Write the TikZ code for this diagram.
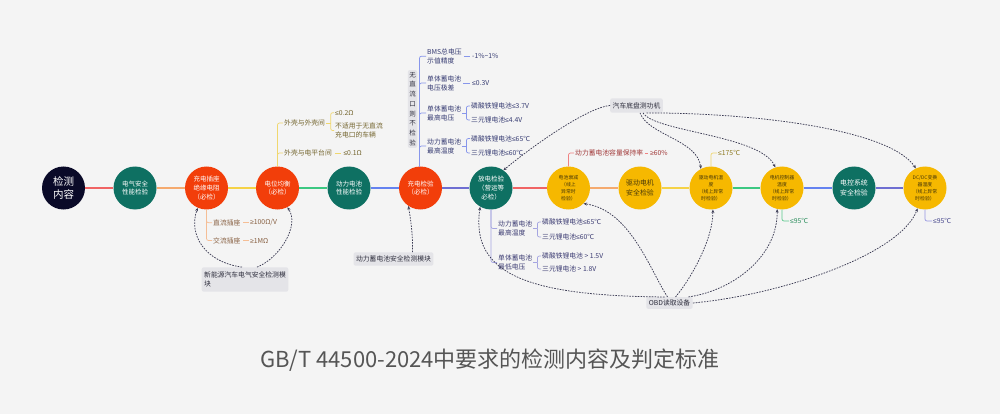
\documentclass[tikz,border=0pt]{standalone}
\usepackage{fontspec}
\setmainfont{Noto Sans CJK SC}
\newfontfamily\symfnt{Liberation Sans}
\newcommand\myle{{\symfnt ≤}}
\newcommand\myge{{\symfnt ≥}}
\usetikzlibrary{arrows.meta,calc}
\definecolor{bg}{RGB}{244,244,244}
\definecolor{navyc}{RGB}{10,10,40}
\definecolor{tealf}{RGB}{14,112,98}
\definecolor{redf}{RGB}{242,62,10}
\definecolor{yelf}{RGB}{246,184,0}
\definecolor{yeltext}{RGB}{70,55,10}
\definecolor{lA}{RGB}{240,100,100}
\definecolor{lB}{RGB}{245,170,110}
\definecolor{lC}{RGB}{245,210,70}
\definecolor{lD}{RGB}{60,200,130}
\definecolor{lE}{RGB}{100,130,240}
\definecolor{lF}{RGB}{110,110,210}
\definecolor{otext}{RGB}{135,95,65}
\definecolor{oline}{RGB}{245,190,150}
\definecolor{ytext}{RGB}{115,100,45}
\definecolor{yline}{RGB}{240,215,110}
\definecolor{btext}{RGB}{55,60,115}
\definecolor{bline}{RGB}{135,150,235}
\definecolor{ptext}{RGB}{60,60,115}
\definecolor{pline}{RGB}{165,165,225}
\definecolor{rtext}{RGB}{160,55,55}
\definecolor{rline}{RGB}{240,130,130}
\definecolor{ttext}{RGB}{140,120,30}
\definecolor{gtext}{RGB}{40,140,90}
\definecolor{gline}{RGB}{90,200,140}
\definecolor{dtext}{RGB}{70,70,140}
\definecolor{dline}{RGB}{150,150,225}
\definecolor{lblfill}{RGB}{228,228,232}
\definecolor{lbltext}{RGB}{45,45,60}
\definecolor{dashc}{RGB}{60,60,85}
\definecolor{titlec}{RGB}{85,85,85}
\begin{document}
\begin{tikzpicture}[x=1pt,y=-1pt,
  circ/.style={circle,minimum size=43pt,inner sep=0pt,align=center,font=\fontsize{6.5}{8.8}\selectfont},
  tealc/.style={fill=tealf,text=white},
  redc/.style={fill=redf,text=white},
  yelc/.style={fill=yelf,text=yeltext},
  smalltxt/.style={font=\fontsize{4.9}{7}\selectfont},
  bigtxt/.style={font=\fontsize{6.9}{10}\selectfont},
  br/.style={anchor=west,inner sep=1pt,font=\fontsize{6.8}{9}\selectfont,align=left},
  bl/.style={line width=0.7pt,rounded corners=2pt},
  mainln/.style={line width=1.4pt},
  lbl/.style={fill=lblfill,text=lbltext,rounded corners=2pt,inner xsep=2.5pt,inner ysep=3.5pt,font=\fontsize{6.8}{9}\selectfont},
  conn/.style={draw=dashc,line width=0.75pt,dash pattern=on 1.6pt off 1.2pt,-{Stealth[length=3.5pt,width=3pt]}}
]
\useasboundingbox (0,0) rectangle (1000,414);
\fill[bg] (0,0) rectangle (1000,414);

% main circles
\node[circ,fill=navyc,text=white,font=\fontsize{10.5}{12.5}\selectfont] (c1) at (63.5,188) {检测\\内容};
\node[circ,tealc] (c2) at (135,188) {电气安全\\性能检验};
\node[circ,redc] (c3) at (206.5,188) {充电插座\\绝缘电阻\\（必检）};
\node[circ,redc] (c4) at (277.5,188) {电位均衡\\（必检）};
\node[circ,tealc] (c5) at (349,188) {动力电池\\性能检验};
\node[circ,redc] (c6) at (420.5,188) {充电检验\\（必检）};
\node[circ,tealc] (c7) at (491,188) {放电检验\\（营运等\\必检）};
\node[circ,yelc,smalltxt] (c8) at (568.5,188) {电池衰减\\（线上\\异常时\\检验）};
\node[circ,yelc,bigtxt] (c9) at (640,188) {驱动电机\\安全检验};
\node[circ,yelc,smalltxt] (c10) at (711,188) {驱动电机温\\度\\（线上异常\\时检验）};
\node[circ,yelc,smalltxt] (c11) at (782,188) {电机控制器\\温度\\（线上异常\\时检验）};
\node[circ,tealc,bigtxt] (c12) at (854,188) {电控系统\\安全检验};
\node[circ,yelc,smalltxt] (c13) at (925,188) {DC/DC变换\\器温度\\（线上异常\\时检验）};

% main line
\draw[mainln,lA] (c1.east) -- (c2.west);
\draw[mainln,lB] (c2.east) -- (c3.west);
\draw[mainln,lC] (c3.east) -- (c4.west);
\draw[mainln,lD] (c4.east) -- (c5.west);
\draw[mainln,lE] (c5.east) -- (c6.west);
\draw[mainln,lF] (c6.east) -- (c7.west);
\draw[mainln,lA] (c7.east) -- (c8.west);
\draw[mainln,lB] (c8.east) -- (c9.west);
\draw[mainln,lC] (c9.east) -- (c10.west);
\draw[mainln,lD] (c10.east) -- (c11.west);
\draw[mainln,lE] (c11.east) -- (c12.west);
\draw[mainln,lF] (c12.east) -- (c13.west);

% orange branch
\node[br,text=otext] (o1) at (212,222.7) {直流插座};
\node[br,text=otext] (o1v) at (249,222.7) {\myge100Ω/V};
\node[br,text=otext] (o2) at (212,240.5) {交流插座};
\node[br,text=otext] (o2v) at (249,240.5) {\myge1MΩ};
\draw[bl,oline] (c3.south) |- (o1.west);
\draw[bl,oline] (c3.south) |- (o2.west);
\draw[bl,oline] ([xshift=1.5pt]o1.east) -- ([xshift=-0.5pt]o1v.west);
\draw[bl,oline] ([xshift=1.5pt]o2.east) -- ([xshift=-0.5pt]o2v.west);

% yellow branch
\node[br,text=ytext] (y1) at (283,123) {外壳与外壳间};
\node[br,text=ytext] (y1a) at (334,112.7) {\myle0.2Ω};
\node[br,text=ytext] (y1b) at (334,130.5) {不适用于无直流\\充电口的车辆};
\node[br,text=ytext] (y2) at (283,153) {外壳与电平台间};
\node[br,text=ytext] (y2v) at (342.3,153) {\myle0.1Ω};
\draw[bl,yline] (c4.north) |- (y1.west);
\draw[bl,yline] (c4.north) |- (y2.west);
\draw[bl,yline] (y1.east) -- ++(4.5,0) coordinate (jy);
\draw[bl,yline] (jy) |- (y1a.west);
\draw[bl,yline] (jy) |- (y1b.west);
\draw[bl,yline] ([xshift=2pt]y2.east) -- ([xshift=-1pt]y2v.west);

% blue branch
\node[lbl,align=center,font=\fontsize{6.5}{9.75}\selectfont,inner xsep=1.5pt,inner ysep=2pt] (L5) at (412.5,109) {无\\直\\流\\口\\则\\不\\检\\验};
\node[br,text=btext] (b1) at (426,56.2) {BMS总电压\\示值精度};
\node[br,text=btext] (b1v) at (471,56.2) {-1\%\char"7E 1\%};
\node[br,text=btext] (b2) at (426,83) {单体蓄电池\\电压极差};
\node[br,text=btext] (b2v) at (471,83) {\myle0.3V};
\node[br,text=btext] (b3) at (426,113) {单体蓄电池\\最高电压};
\node[br,text=btext] (b3a) at (470,106) {磷酸铁锂电池\myle3.7V};
\node[br,text=btext] (b3b) at (470,120) {三元锂电池\myle4.4V};
\node[br,text=btext] (b4) at (426,146) {动力蓄电池\\最高温度};
\node[br,text=btext] (b4a) at (470,138.5) {磷酸铁锂电池\myle65℃};
\node[br,text=btext] (b4b) at (470,153) {三元锂电池\myle60℃};
\coordinate (bt) at ([xshift=-1pt]c6.north);
\draw[bl,bline] (bt) |- (b1.west);
\draw[bl,bline] (bt) |- (b2.west);
\draw[bl,bline] (bt) |- (b3.west);
\draw[bl,bline] (bt) |- (b4.west);
\draw[bl,bline] ([xshift=1pt]b1.east) -- ([xshift=-1pt]b1v.west);
\draw[bl,bline] ([xshift=1pt]b2.east) -- ([xshift=-1pt]b2v.west);
\draw[bl,bline] (b3.east) -- ++(4,0) coordinate (jb3);
\draw[bl,bline] (jb3) |- (b3a.west);
\draw[bl,bline] (jb3) |- (b3b.west);
\draw[bl,bline] (b4.east) -- ++(4,0) coordinate (jb4);
\draw[bl,bline] (jb4) |- (b4a.west);
\draw[bl,bline] (jb4) |- (b4b.west);

% purple branch
\node[br,text=ptext] (p1) at (497,228.5) {动力蓄电池\\最高温度};
\node[br,text=ptext] (p1a) at (541,222) {磷酸铁锂电池\myle65℃};
\node[br,text=ptext] (p1b) at (541,237) {三元锂电池\myle60℃};
\node[br,text=ptext] (p2) at (497,262.5) {单体蓄电池\\最低电压};
\node[br,text=ptext] (p2a) at (541,256) {磷酸铁锂电池 > 1.5V};
\node[br,text=ptext] (p2b) at (541,269) {三元锂电池 > 1.8V};
\draw[bl,pline] (c7.south) |- (p1.west);
\draw[bl,pline] (c7.south) |- (p2.west);
\draw[bl,pline] (p1.east) -- ++(4,0) coordinate (jp1);
\draw[bl,pline] (jp1) |- (p1a.west);
\draw[bl,pline] (jp1) |- (p1b.west);
\draw[bl,pline] (p2.east) -- ++(4,0) coordinate (jp2);
\draw[bl,pline] (jp2) |- (p2a.west);
\draw[bl,pline] (jp2) |- (p2b.west);

% red branch
\node[br,text=rtext] (r1) at (574,153) {动力蓄电池容量保持率};
\node[br,text=rtext] (r1v) at (649,153) {\myge60\%};
\draw[bl,rline] (c8.north) |- (r1.west);
\draw[bl,rline] ([xshift=1pt]r1.east) -- ([xshift=-1pt]r1v.west);

% small value branches
\node[br,text=ttext] (t1) at (717,153) {\myle175℃};
\draw[bl,yline] (c10.north) |- (t1.west);
\node[br,text=gtext] (g1) at (789,221) {\myle95℃};
\draw[bl,gline] (c11.south) |- (g1.west);
\node[br,text=dtext] (d1) at (932,221) {\myle95℃};
\draw[bl,dline] (c13.south) |- (d1.west);

% label boxes
\node[lbl,align=left,inner ysep=4.5pt] (L1) at (245,279.5) {新能源汽车电气安全检测模\\块};
\node[lbl] (L2) at (393.5,259) {动力蓄电池安全检测模块};
\node[lbl,inner ysep=4pt] (L3) at (636.5,105.5) {汽车底盘测功机};
\node[lbl,inner ysep=2.7pt] (L4) at (669.5,303) {OBD读取设备};

% dashed connectors
\draw[conn] ([xshift=-3pt]L1.north) .. controls (205,262) and (188,235) .. (c3.246);
\draw[conn] ([xshift=12pt]L1.north) .. controls (280,258) and (300,225) .. (c4.297);
\draw[conn] ([xshift=19pt]L2.north) .. controls (413,232) and (410,216) .. (c6.236);
\draw[conn] (L3.west) .. controls (590,107) and (540,140) .. (c7.55);
\draw[conn] ([xshift=3.5pt]L3.south) .. controls (648,135) and (698,140) .. (c10.118);
\draw[conn] ([xshift=6.5pt]L3.south) .. controls (655,132) and (760,135) .. (c11.108);
\draw[conn] ([xshift=10pt]L3.south) .. controls (760,113) and (890,130) .. (c13.115);
\draw[conn] ([xshift=-5pt]L4.north) .. controls (530,296) and (470,275) .. (c7.240);
\draw[conn] ([xshift=-2pt]L4.north) .. controls (650,270) and (630,210) .. (c8.314);
\draw[conn] ([xshift=6pt]L4.north) .. controls (690,280) and (713,240) .. (c10.275);
\draw[conn] ([xshift=19pt]L4.north) .. controls (735,290) and (778,255) .. (c11.257);
\draw[conn] (L4.east) .. controls (780,295) and (900,255) .. (c13.250);

% title
\node[font=\fontsize{22}{26}\selectfont,text=titlec,anchor=base] (title) at (490,367) {GB/T 44500-2024中要求的检测内容及判定标准};
\end{tikzpicture}
\end{document}
